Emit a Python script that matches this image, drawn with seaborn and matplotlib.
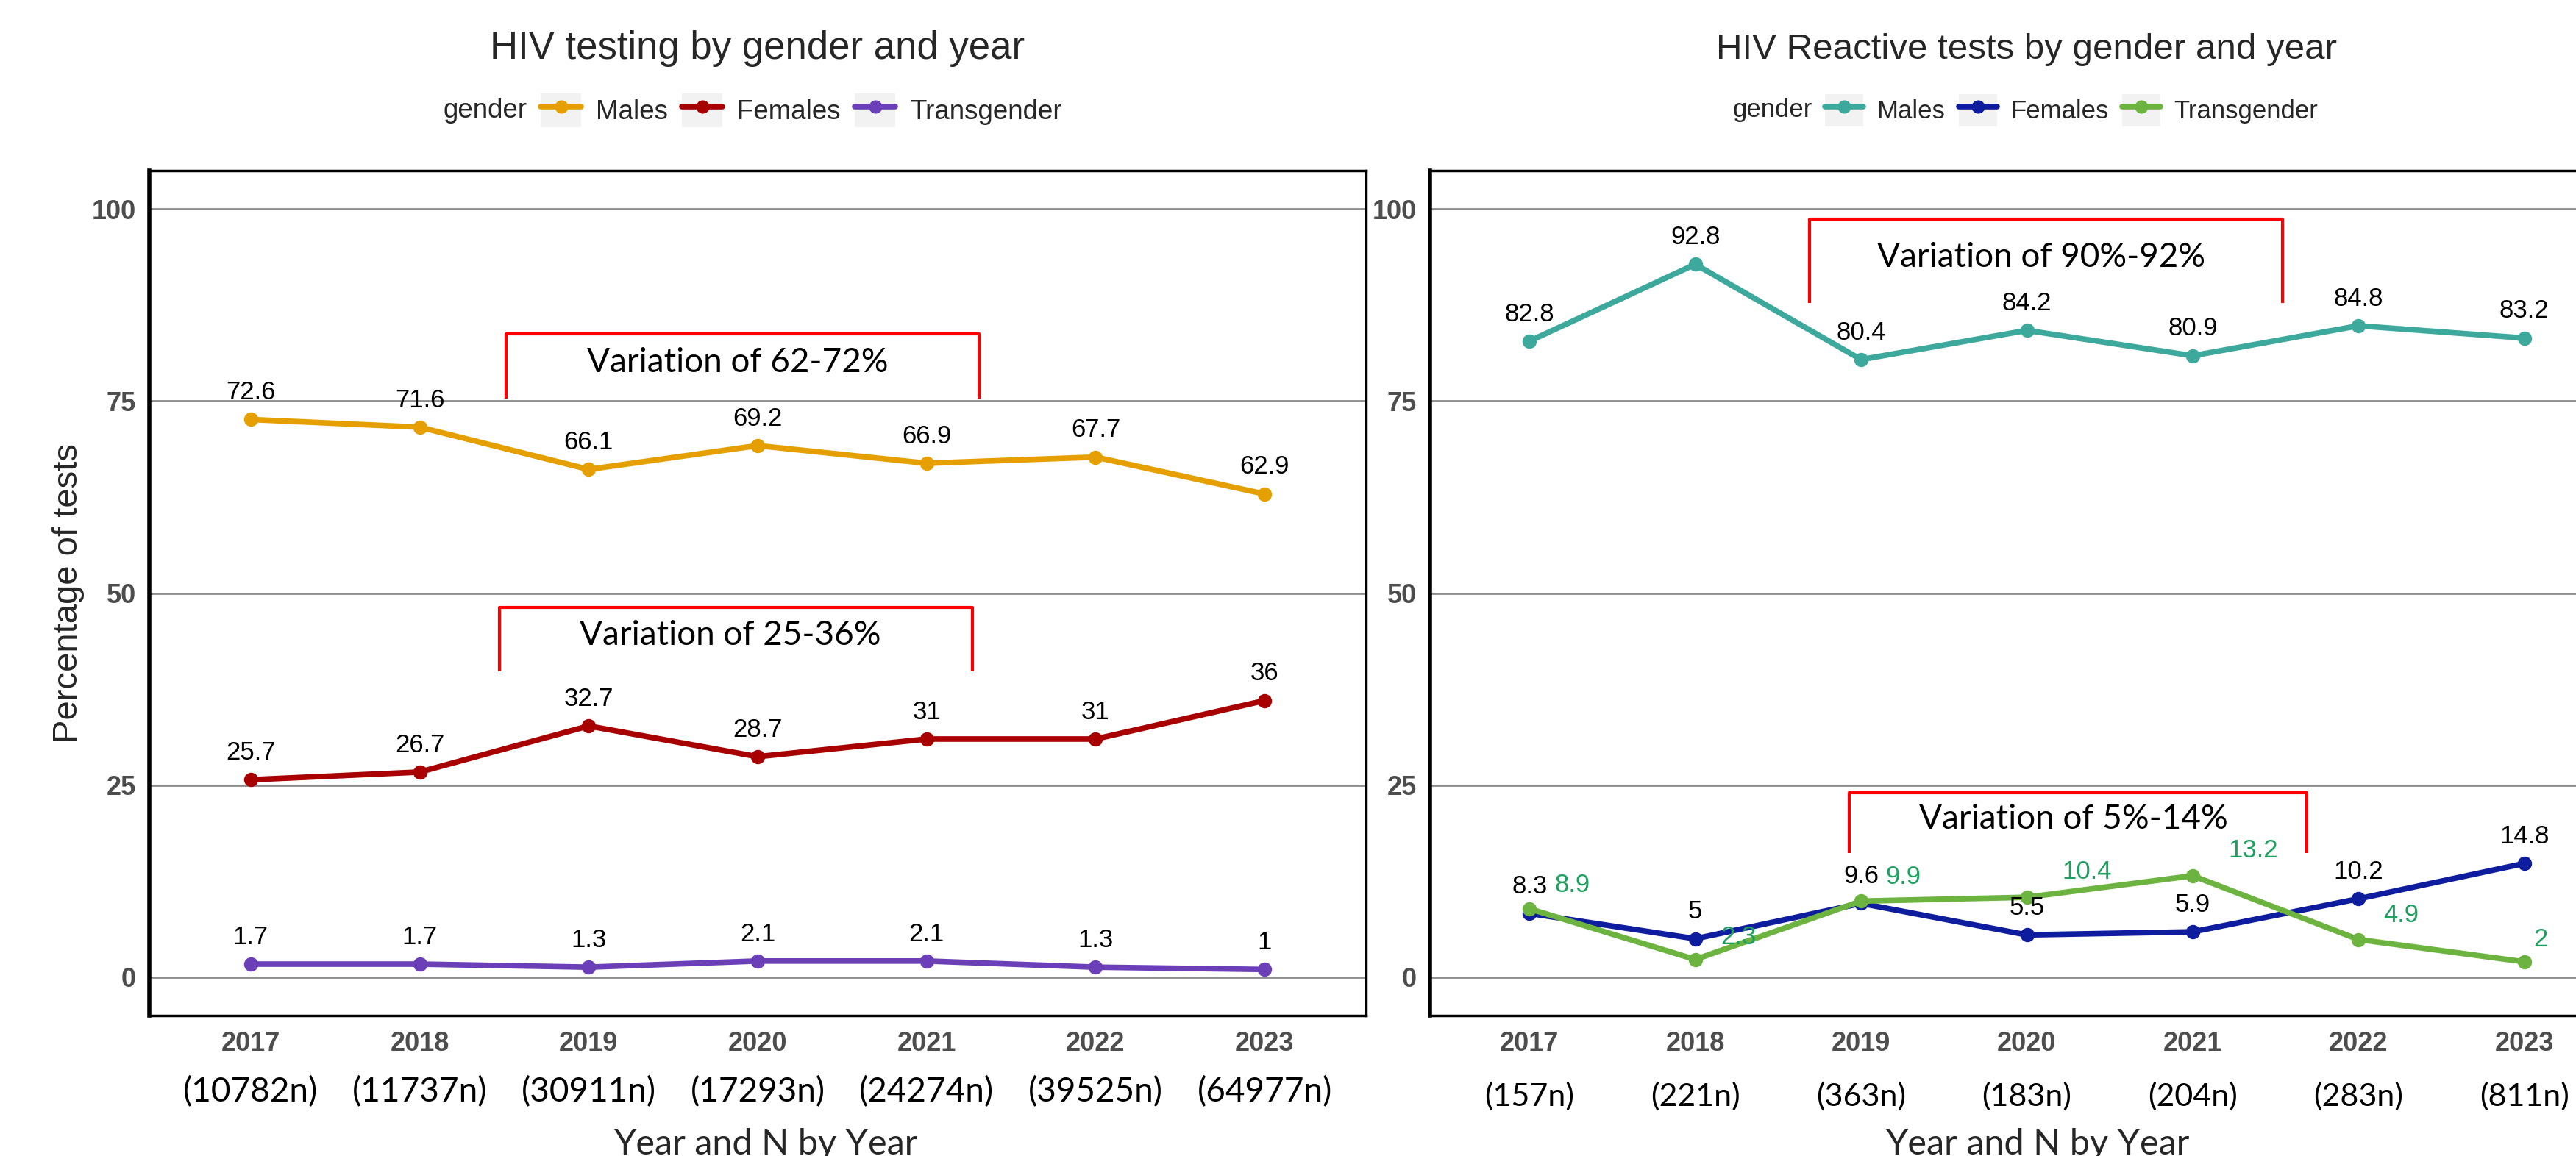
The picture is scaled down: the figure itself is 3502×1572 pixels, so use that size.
import matplotlib
matplotlib.use('Agg')
import matplotlib.pyplot as plt
import matplotlib.transforms as mtransforms
from matplotlib.lines import Line2D
from matplotlib.patches import Patch
import seaborn as sns
import pandas as pd

years = [2017, 2018, 2019, 2020, 2021, 2022, 2023]
genders = ['Males', 'Females', 'Transgender']

# HIV testing, % of tests
test_males = [72.6, 71.6, 66.1, 69.2, 66.9, 67.7, 62.9]
test_females = [25.7, 26.7, 32.7, 28.7, 31, 31, 36]
test_trans = [1.7, 1.7, 1.3, 2.1, 2.1, 1.3, 1]
test_n = ['(10782n)', '(11737n)', '(30911n)', '(17293n)', '(24274n)', '(39525n)', '(64977n)']

# HIV reactive tests, % of tests
react_males = [82.8, 92.8, 80.4, 84.2, 80.9, 84.8, 83.2]
react_females = [8.3, 5, 9.6, 5.5, 5.9, 10.2, 14.8]
react_trans = [8.9, 2.3, 9.9, 10.4, 13.2, 4.9, 2]
react_n = ['(157n)', '(221n)', '(363n)', '(183n)', '(204n)', '(283n)', '(811n)']

test_colors = {'Males': '#E69F00', 'Females': '#A80000', 'Transgender': '#6A3FB8'}
react_colors = {'Males': '#3DA89C', 'Females': '#0E1C9E', 'Transgender': '#6DB33F'}

W, H = 3502, 1572
sns.set_style('white')
plt.rcParams['font.family'] = ['Liberation Sans', 'DejaVu Sans']
CAL = ['Lato', 'DejaVu Sans']

fig = plt.figure(figsize=(W / 100, H / 100), dpi=100)
ax1 = fig.add_axes([203 / W, 191 / H, 1654 / W, 1149 / H])
ax2 = fig.add_axes([1944 / W, 191 / H, 1623 / W, 1149 / H])


def long_df(males, females, trans):
    parts = []
    for g, vals in zip(genders, [males, females, trans]):
        parts.append(pd.DataFrame({'year': years, 'pct': vals, 'gender': g}))
    return pd.concat(parts, ignore_index=True)


def draw_panel(ax, df, palette, n_labels, n_y, n_size):
    ax.yaxis.grid(True, color='#8C8C8C', lw=2)
    ax.set_axisbelow(True)
    sns.lineplot(data=df, x='year', y='pct', hue='gender', hue_order=genders,
                 palette=palette, marker='o', markersize=14, markeredgewidth=0,
                 linewidth=5.5, legend=False, ax=ax)
    ax.set_xlim(2016.4, 2023.6)
    ax.set_ylim(-5, 105)
    ax.set_xticks(years)
    ax.set_yticks([0, 25, 50, 75, 100])
    ax.tick_params(axis='both', length=7, width=1.5, color='#333333',
                   labelsize=26, labelcolor='#4D4D4D')
    ax.tick_params(axis='x', pad=8)
    ax.tick_params(axis='y', pad=6)
    for lab in ax.get_xticklabels() + ax.get_yticklabels():
        lab.set_fontweight('bold')
    ax.set_xlabel('')
    ax.set_ylabel('')
    for s in ax.spines.values():
        s.set_visible(True)
        s.set_color('black')
        s.set_linewidth(2.5)
    ax.spines['left'].set_linewidth(4)
    trans = mtransforms.blended_transform_factory(ax.transData, ax.transAxes)
    for yr, lab in zip(years, n_labels):
        ax.text(yr, n_y, lab, transform=trans, ha='center', va='center',
                fontsize=n_size, family=CAL, color='black')


def value_labels(ax, df, skip=None, color='black'):
    for _, r in df.iterrows():
        if r['gender'] == skip:
            continue
        ax.annotate(f"{r['pct']:g}", (r['year'], r['pct']), xytext=(0, 26.5),
                    textcoords='offset points', ha='center', va='center',
                    fontsize=25, color=color)


def bracket(ax, x0, x1, ytop, ybot, text):
    ax.plot([x0, x0, x1, x1], [ybot, ytop, ytop, ybot], color='#FF0000',
            lw=3, solid_capstyle='butt', clip_on=False, zorder=5)
    ax.text((x0 + x1) / 2 - 0.03, (ytop + ybot) / 2 + 0.5, text, ha='center',
            va='center', fontsize=33, family=CAL, color='black', zorder=5)


def legend(x_title, x_keys, palette, size):
    handles = [(Patch(facecolor='#F2F2F2', edgecolor='none'),
                Line2D([], [], color=palette[g], lw=5.5, marker='o', markersize=12))
               for g in genders]
    fig.legend(handles, genders, loc='center left',
               bbox_to_anchor=(x_keys / W, 1 - 150 / H), ncol=3, frameon=False,
               borderpad=0, borderaxespad=0, handlelength=1.5, handleheight=1.55,
               handletextpad=0.53, columnspacing=0.53, fontsize=size)
    fig.text(x_title / W, 1 - 150 / H, 'gender', ha='right', va='center',
             fontsize=size)


# left panel: all tests
df1 = long_df(test_males, test_females, test_trans)
draw_panel(ax1, df1, test_colors, test_n, -0.0905, 33)
value_labels(ax1, df1)
bracket(ax1, 2018.51, 2021.31, 83.7, 75.3, 'Variation of 62-72%')
bracket(ax1, 2018.47, 2021.27, 48.1, 39.8, 'Variation of 25-36%')
ax1.set_ylabel('Percentage of tests', fontsize=34)
ax1.yaxis.set_label_coords(-0.053, 0.5)
fig.text(1030 / W, 1 - 80 / H, 'HIV testing by gender and year', ha='center',
         va='baseline', fontsize=38)
legend(717, 735, test_colors, 26.5)
fig.text(1041 / W, 2 / H, 'Year and N by Year', ha='center', va='baseline',
         fontsize=35, family=CAL)

# right panel: reactive tests
df2 = long_df(react_males, react_females, react_trans)
draw_panel(ax2, df2, react_colors, react_n, -0.0957, 31)
value_labels(ax2, df2, skip='Transgender')
tg_dx = [42, 42, 41, 59, 59, 42, 16]
tg_dy = [23, 22, 24, 25, 25, 24, 22]
for yr, v, dx, dy in zip(years, react_trans, tg_dx, tg_dy):
    ax2.annotate(f"{v:g}", (yr, v), xytext=(dx, dy), textcoords='offset points',
                 ha='center', va='center', fontsize=25, color='#1FA060')
bracket(ax2, 2018.69, 2021.54, 98.7, 87.8, 'Variation of 90%-92%')
bracket(ax2, 2018.93, 2021.69, 24.0, 16.2, 'Variation of 5%-14%')
fig.text(2755 / W, 1 - 80 / H, 'HIV Reactive tests by gender and year',
         ha='center', va='baseline', fontsize=35.5)
legend(2464, 2481, react_colors, 25)
fig.text(2770 / W, 2 / H, 'Year and N by Year', ha='center', va='baseline',
         fontsize=35, family=CAL)

fig.savefig('out.png', dpi=100)
